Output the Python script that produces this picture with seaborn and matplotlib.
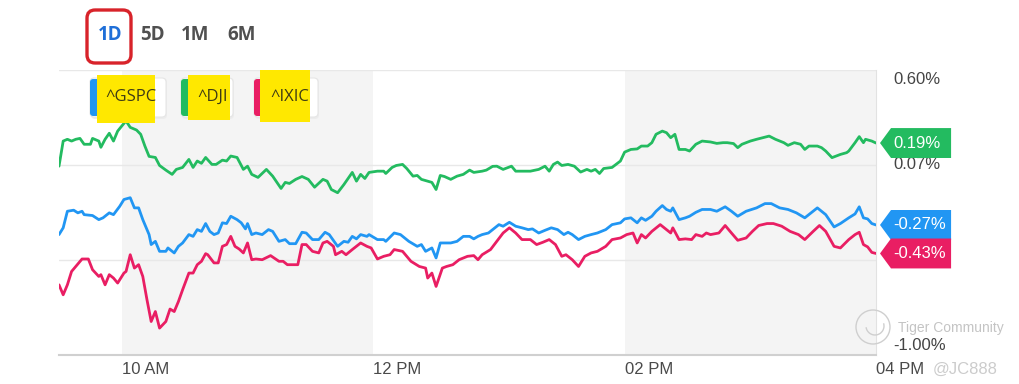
import pandas as pd
import matplotlib
matplotlib.use("Agg")
import matplotlib.pyplot as plt
import seaborn as sns
from matplotlib.patches import Polygon, FancyBboxPatch, Rectangle, Ellipse, Arc

# minutes after 09:30 and % change for each index
dji_min = [0, 2, 4, 6, 8, 10, 12, 15, 16, 19,
           20, 22, 24, 26, 28, 30, 32, 34, 37, 39,
           41, 43, 46, 48, 51, 54, 56, 59, 62, 64,
           66, 68, 70, 73, 75, 78, 80, 82, 85, 88,
           90, 92, 95, 99, 102, 106, 108, 110, 113, 116,
           119, 122, 126, 128, 130, 133, 136, 140, 142, 144,
           146, 148, 152, 155, 156, 159, 161, 164, 166, 169,
           171, 173, 176, 178, 180, 182, 184, 187, 190, 193,
           196, 198, 202, 204, 207, 209, 212, 216, 218, 221,
           225, 229, 232, 234, 236, 238, 240, 243, 246, 249,
           252, 254, 256, 258, 260, 264, 268, 270, 273, 276,
           278, 281, 283, 285, 288, 290, 292, 294, 296, 299,
           301, 304, 307, 311, 314, 317, 319, 322, 324, 326,
           330, 333, 336, 339, 342, 346, 348, 351, 354, 356,
           358, 362, 364, 366, 369, 373, 376, 377, 380, 382,
           384, 385, 388, 390]
dji_pct = [0.060, 0.201, 0.211, 0.201, 0.211, 0.216, 0.183, 0.183, 0.216, 0.201,
           0.166, 0.211, 0.245, 0.201, 0.257, 0.286, 0.314, 0.278, 0.263, 0.239,
           0.173, 0.115, 0.109, 0.064, 0.038, 0.014, 0.042, 0.053, 0.098, 0.053,
           0.089, 0.076, 0.109, 0.070, 0.070, 0.094, 0.089, 0.117, 0.109, 0.042,
           0.060, 0.014, -0.003, 0.042, 0.004, -0.065, -0.031, -0.037, -0.014, 0.002,
           -0.014, -0.058, -0.014, -0.024, -0.071, -0.089, -0.043, 0.025, -0.024, 0.014,
           -0.009, 0.025, 0.032, 0.032, 0.019, 0.053, 0.064, 0.070, 0.047, 0.004,
           0.008, -0.014, -0.024, -0.031, -0.071, 0.008, 0.002, -0.014, 0.004, 0.014,
           0.038, 0.025, 0.032, 0.038, 0.059, 0.060, 0.042, 0.060, 0.032, 0.032,
           0.032, 0.042, 0.060, 0.032, 0.070, 0.083, 0.064, 0.070, 0.060, 0.027,
           0.042, 0.032, 0.042, 0.019, 0.047, 0.053, 0.089, 0.139, 0.154, 0.157,
           0.173, 0.173, 0.192, 0.239, 0.257, 0.248, 0.220, 0.239, 0.154, 0.154,
           0.145, 0.183, 0.201, 0.196, 0.188, 0.192, 0.192, 0.187, 0.164, 0.183,
           0.201, 0.211, 0.220, 0.229, 0.211, 0.192, 0.177, 0.192, 0.183, 0.154,
           0.173, 0.173, 0.164, 0.145, 0.108, 0.126, 0.136, 0.145, 0.192, 0.226,
           0.192, 0.211, 0.201, 0.190]

gspc_min = [0, 2, 4, 7, 9, 11, 12, 16, 19, 21,
            24, 26, 29, 31, 34, 36, 38, 40, 43, 44,
            46, 48, 51, 52, 55, 57, 59, 62, 64, 66,
            68, 70, 72, 74, 76, 78, 80, 82, 85, 87,
            89, 90, 92, 94, 97, 100, 102, 105, 108, 110,
            113, 116, 118, 121, 124, 127, 129, 133, 136, 138,
            140, 142, 144, 147, 148, 152, 155, 156, 160, 163,
            167, 171, 173, 175, 178, 180, 182, 187, 190, 193,
            196, 198, 200, 202, 205, 207, 210, 212, 215, 218,
            221, 224, 226, 229, 232, 235, 238, 241, 243, 245,
            248, 251, 254, 257, 261, 264, 268, 270, 273, 276,
            278, 280, 283, 285, 288, 290, 292, 293, 296, 299,
            301, 304, 307, 311, 314, 318, 321, 324, 328, 333,
            337, 340, 344, 348, 352, 356, 359, 362, 366, 370,
            373, 377, 380, 382, 384, 386, 388, 390]
gspc_pct = [-0.324, -0.286, -0.193, -0.187, -0.202, -0.193, -0.212, -0.217, -0.240, -0.230,
            -0.202, -0.212, -0.165, -0.127, -0.117, -0.174, -0.174, -0.240, -0.324, -0.380,
            -0.362, -0.418, -0.418, -0.399, -0.427, -0.390, -0.371, -0.324, -0.334, -0.296,
            -0.306, -0.262, -0.306, -0.324, -0.315, -0.258, -0.262, -0.221, -0.240, -0.258,
            -0.292, -0.262, -0.324, -0.315, -0.324, -0.296, -0.306, -0.362, -0.352, -0.375,
            -0.375, -0.311, -0.315, -0.352, -0.352, -0.311, -0.324, -0.390, -0.362, -0.367,
            -0.334, -0.348, -0.324, -0.334, -0.324, -0.352, -0.352, -0.362, -0.315, -0.324,
            -0.362, -0.390, -0.380, -0.418, -0.399, -0.455, -0.371, -0.371, -0.362, -0.334,
            -0.334, -0.348, -0.334, -0.324, -0.315, -0.296, -0.268, -0.277, -0.255, -0.277,
            -0.286, -0.296, -0.292, -0.315, -0.300, -0.286, -0.296, -0.324, -0.311, -0.324,
            -0.352, -0.334, -0.324, -0.315, -0.296, -0.268, -0.258, -0.236, -0.230, -0.258,
            -0.230, -0.244, -0.221, -0.193, -0.161, -0.183, -0.193, -0.174, -0.240, -0.230,
            -0.221, -0.199, -0.183, -0.183, -0.193, -0.168, -0.193, -0.221, -0.193, -0.174,
            -0.150, -0.150, -0.174, -0.183, -0.202, -0.230, -0.202, -0.174, -0.212, -0.281,
            -0.262, -0.230, -0.208, -0.168, -0.230, -0.236, -0.262, -0.270]

ixic_min = [0, 2, 4, 6, 8, 11, 14, 16, 19, 20,
            22, 24, 26, 28, 31, 32, 34, 36, 38, 40,
            42, 44, 46, 48, 51, 53, 55, 57, 59, 62,
            64, 66, 68, 70, 71, 74, 76, 78, 80, 82,
            84, 86, 88, 90, 92, 94, 97, 101, 105, 107,
            109, 114, 116, 118, 121, 124, 126, 128, 131, 132,
            135, 137, 140, 144, 147, 149, 152, 155, 158, 160,
            164, 168, 172, 175, 176, 178, 180, 183, 185, 188,
            191, 195, 198, 200, 202, 206, 209, 212, 215, 218,
            221, 225, 228, 231, 234, 237, 240, 242, 245, 248,
            251, 254, 257, 261, 264, 268, 271, 274, 276, 278,
            280, 283, 287, 290, 292, 293, 296, 299, 302, 304,
            307, 309, 311, 315, 318, 321, 324, 328, 331, 334,
            338, 341, 345, 349, 353, 356, 360, 363, 366, 370,
            373, 377, 380, 382, 384, 386, 388, 390]
ixic_pct = [-0.606, -0.662, -0.606, -0.531, -0.503, -0.461, -0.461, -0.521, -0.559, -0.549,
            -0.606, -0.549, -0.568, -0.596, -0.540, -0.531, -0.437, -0.512, -0.493, -0.559,
            -0.690, -0.812, -0.756, -0.849, -0.812, -0.742, -0.756, -0.700, -0.634, -0.540,
            -0.540, -0.493, -0.474, -0.431, -0.437, -0.483, -0.483, -0.390, -0.380, -0.334,
            -0.390, -0.405, -0.427, -0.371, -0.465, -0.461, -0.465, -0.442, -0.474, -0.474,
            -0.493, -0.493, -0.380, -0.380, -0.418, -0.427, -0.371, -0.362, -0.390, -0.437,
            -0.418, -0.437, -0.408, -0.371, -0.390, -0.399, -0.461, -0.446, -0.437, -0.408,
            -0.418, -0.474, -0.503, -0.512, -0.568, -0.540, -0.615, -0.512, -0.503, -0.493,
            -0.465, -0.446, -0.442, -0.465, -0.437, -0.408, -0.362, -0.315, -0.286, -0.315,
            -0.352, -0.352, -0.380, -0.367, -0.352, -0.380, -0.446, -0.437, -0.465, -0.503,
            -0.446, -0.427, -0.418, -0.390, -0.352, -0.343, -0.324, -0.315, -0.371, -0.324,
            -0.343, -0.306, -0.268, -0.296, -0.315, -0.286, -0.352, -0.348, -0.352, -0.324,
            -0.334, -0.315, -0.324, -0.315, -0.273, -0.315, -0.356, -0.343, -0.306, -0.273,
            -0.262, -0.262, -0.277, -0.306, -0.324, -0.352, -0.306, -0.273, -0.306, -0.390,
            -0.399, -0.352, -0.324, -0.311, -0.380, -0.393, -0.424, -0.430]

symbols = ["^GSPC", "^DJI", "^IXIC"]
colors = {"^GSPC": "#2196f3", "^DJI": "#23bb60", "^IXIC": "#e91e63"}
xtick_min = [30, 150, 270, 390]
xtick_labels = ["10 AM", "12 PM", "02 PM", "04 PM"]
ytick_vals = [0.60, 0.067, -0.467, -1.00]
ytick_labels = ["0.60%", "0.07%", "", "-1.00%"]
ranges = ["1D", "5D", "1M", "6M"]

W, H = 1020, 384


def fx(x):
    return x / W


def fy(y):
    return 1 - y / H


series = {"^GSPC": (gspc_min, gspc_pct), "^DJI": (dji_min, dji_pct), "^IXIC": (ixic_min, ixic_pct)}
df = pd.concat([pd.DataFrame({"minute": m, "pct": p, "symbol": s}) for s, (m, p) in series.items()],
               ignore_index=True)

sns.set_style("white")
plt.rcParams["font.family"] = ["Liberation Sans", "DejaVu Sans"]

fig = plt.figure(figsize=(W / 100, H / 100), dpi=100)
ax = fig.add_axes([fx(59), fy(355), fx(876) - fx(59), fy(70) - fy(355)])

# shaded hours
ax.axvspan(30, 150, color="#f4f4f4", lw=0, zorder=0)
ax.axvspan(270, 390, color="#f4f4f4", lw=0, zorder=0)
for v in ytick_vals[:-1]:
    ax.axhline(v, color="#e8e8e8", lw=1, zorder=1)

sns.lineplot(data=df, x="minute", y="pct", hue="symbol", palette=colors, estimator=None,
             sort=False, lw=2.0, legend=False, ax=ax, zorder=3)

ax.set_xlim(0, 390)
ax.set_ylim(-1.0, 0.6)
ax.set_xlabel("")
ax.set_ylabel("")
ax.set_xticks(xtick_min, xtick_labels, ha="left", fontsize=12, color="#4a4a4a")
ax.tick_params(axis="x", length=0, pad=5)
ax.set_yticks([])
ax.spines["left"].set_visible(False)
ax.spines["top"].set_visible(False)
ax.spines["right"].set_color("#e2e2e2")
ax.spines["bottom"].set_color("#d0d0d0")
ax.spines["bottom"].set_linewidth(1.5)

# right axis labels
offs = [-10, 0, 0, 9]
for v, lab, o in zip(ytick_vals, ytick_labels, offs):
    if lab:
        ax.annotate(lab, xy=(1, v), xycoords=("axes fraction", "data"), xytext=(17, o),
                    textcoords="offset pixels", ha="left", va="center", fontsize=12,
                    color="#444444", annotation_clip=False)

# last value tags
trans = ax.get_yaxis_transform()
half = 0.084
for s in ["^DJI", "^GSPC", "^IXIC"]:
    v = series[s][1][-1]
    tag = Polygon([(1.0049, v), (1.0184, v + half), (1.0919, v + half), (1.0919, v - half), (1.0184, v - half)],
                  closed=True, transform=trans, clip_on=False, fc=colors[s], ec="none", zorder=5)
    ax.add_patch(tag)
    ax.text(1.0215, v, f"{v:.2f}%", transform=trans, ha="left", va="center", color="white",
            fontsize=12, zorder=6, clip_on=False)

# range buttons
btn_x = [110, 152, 195, 242]
for lab, x in zip(ranges, btn_x):
    fig.text(fx(x), fy(35), lab, ha="center", va="center", fontsize=13.5, fontweight="bold",
             family=["Open Sans", "DejaVu Sans"], color="#1f6fd8" if lab == "1D" else "#505050")
fig.add_artist(FancyBboxPatch((fx(87), fy(63)), fx(131) - fx(87), fy(10) - fy(63),
                              boxstyle="round,pad=0,rounding_size=0.008", mutation_aspect=W / H,
                              transform=fig.transFigure, fill=False, ec="#d8232a", lw=2.4))

# legend chips with highlighter
chips = [("^GSPC", 90, 166, 97, 155, 75, 123, 131),
         ("^DJI", 181, 233, 188, 230, 75, 120, 213),
         ("^IXIC", 254, 318, 260, 310, 70, 122, 290)]
for s, x0, x1, xb, xy1, yy0, yy1, tx in chips:
    fig.add_artist(FancyBboxPatch((fx(x0 + 1), fy(119)), fx(x1) - fx(x0), fy(78) - fy(119),
                                  boxstyle="round,pad=0,rounding_size=0.004", mutation_aspect=W / H,
                                  transform=fig.transFigure, fc="#ececec", ec="none"))
    fig.add_artist(FancyBboxPatch((fx(x0), fy(117)), fx(x1) - fx(x0), fy(78) - fy(117),
                                  boxstyle="round,pad=0,rounding_size=0.004", mutation_aspect=W / H,
                                  transform=fig.transFigure, fc="white", ec="#e6e6e6", lw=0.8))
    fig.add_artist(FancyBboxPatch((fx(x0), fy(116)), fx(xb + 3) - fx(x0), fy(79) - fy(116),
                                  boxstyle="round,pad=0,rounding_size=0.003", mutation_aspect=W / H,
                                  transform=fig.transFigure, fc=colors[s], ec="none"))
    fig.add_artist(Rectangle((fx(xb), fy(yy1)), fx(xy1) - fx(xb), fy(yy0) - fy(yy1),
                             transform=fig.transFigure, fc="#ffe800", ec="none"))
    fig.text(fx(tx), fy(97), s, ha="center", va="center", fontsize=12,
             family=["Open Sans", "DejaVu Sans"], color="#3f3c14")

# watermark
fig.add_artist(Ellipse((fx(873), fy(327)), 34 / W, 34 / H, transform=fig.transFigure,
                       fill=False, ec="#cfcfcf", lw=1))
fig.add_artist(Arc((fx(875), fy(326)), 18 / W, 18 / H, theta1=200, theta2=40,
                   transform=fig.transFigure, ec="#cfcfcf", lw=1))
fig.text(fx(898), fy(328), "Tiger Community", ha="left", va="center", fontsize=10, color="#c4c4c4")
fig.text(fx(933), fy(369), "@JC888", ha="left", va="center", fontsize=12, color="#cccccc")

fig.savefig("out.png", dpi=100)
